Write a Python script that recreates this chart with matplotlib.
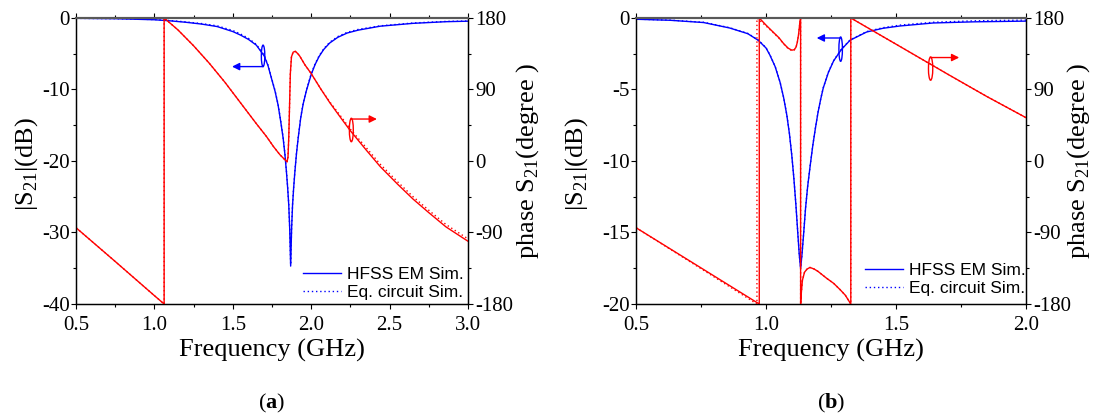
import matplotlib; matplotlib.use("Agg")
import matplotlib.pyplot as plt
from matplotlib.ticker import MultipleLocator, FormatStrFormatter
from matplotlib.patches import Ellipse
from matplotlib.lines import Line2D

plt.rcParams['font.family'] = ['Liberation Serif', 'DejaVu Serif']
plt.rcParams['mathtext.fontset'] = 'custom'
plt.rcParams['mathtext.rm'] = 'Liberation Serif'
plt.rcParams['mathtext.bf'] = 'Liberation Serif:bold'
plt.rcParams['axes.unicode_minus'] = False

# ---- panel (a): |S21| in dB ----
A_F_MAG = [0.5, 0.75, 1.0, 1.1, 1.2, 1.3, 1.4, 1.5, 1.55, 1.6, 1.65, 1.7, 1.725, 1.746, 1.77,
           1.789, 1.805, 1.821, 1.832, 1.842, 1.85, 1.857, 1.863, 1.869, 1.875, 1.881, 1.888,
           1.896, 1.906, 1.917, 1.933, 1.949, 1.969, 2.0, 2.025, 2.05, 2.08, 2.118, 2.17, 2.23,
           2.3, 2.44, 2.65, 2.86, 3.0]
A_MAG_HFSS = [-0.05, -0.1, -0.25, -0.4, -0.6, -0.85, -1.2, -1.9, -2.4, -3.0, -3.8, -5.3, -6.7,
              -8.4, -10.3, -12.2, -14.4, -16.8, -19.0, -21.5, -23.8, -26.2, -29.5, -34.7, -29.5,
              -26.2, -23.8, -21.5, -19.0, -16.8, -14.0, -12.0, -10.2, -7.9, -6.5, -5.4, -4.4,
              -3.5, -2.7, -2.1, -1.7, -1.15, -0.75, -0.52, -0.45]
A_MAG_EQ = [-0.05, -0.1, -0.22, -0.36, -0.55, -0.78, -1.1, -1.75, -2.25, -2.85, -3.7, -5.2, -6.6,
            -8.3, -10.2, -12.1, -14.3, -16.7, -18.9, -21.4, -23.7, -26.1, -29.4, -34.5, -29.4,
            -26.1, -23.7, -21.4, -18.9, -16.7, -13.9, -11.9, -10.1, -7.8, -6.4, -5.3, -4.3,
            -3.4, -2.6, -2.0, -1.6, -1.1, -0.7, -0.48, -0.42]

# ---- panel (a): phase S21 in degree ----
A_F_PH = [0.5, 0.75, 1.0, 1.062, 1.062, 1.15, 1.25, 1.35, 1.45, 1.55, 1.65, 1.714, 1.76, 1.8,
          1.825, 1.846, 1.852, 1.857, 1.862, 1.867, 1.874, 1.885, 1.899, 1.915, 1.927, 1.96,
          2.0, 2.06, 2.12, 2.19, 2.25, 2.35, 2.44, 2.55, 2.65, 2.75, 2.86, 3.0]
A_PH_HFSS = [-84, -126.5, -169.5, -180, 180, 165, 145, 123, 99, 73, 47, 31, 18, 8, 3, -1, 5, 30,
             70, 110, 131, 137, 138, 135, 132, 121, 110, 91, 73, 54, 38, 14, -7, -29, -48, -65,
             -83, -101]
A_PH_EQ = [-84, -126.5, -169.5, -180, 180, 165, 145, 123, 99, 73, 47, 31, 18, 8, 3, -1, 5, 30,
           70, 110, 131, 137, 138, 135, 132, 121, 110, 91, 74, 56, 40, 17, -4, -26, -45, -62,
           -80, -98]

# ---- panel (b): |S21| in dB ----
B_F_MAG = [0.5, 0.63, 0.76, 0.86, 0.93, 0.97, 1.0, 1.015, 1.035, 1.054, 1.068, 1.08, 1.09,
           1.099, 1.107, 1.115, 1.122, 1.128, 1.133, 1.138, 1.145, 1.152, 1.16, 1.17, 1.18,
           1.19, 1.2, 1.21, 1.22, 1.24, 1.26, 1.29, 1.323, 1.387, 1.45, 1.515, 1.643, 1.8, 2.0]
B_MAG_HFSS = [-0.09, -0.16, -0.32, -0.7, -1.1, -1.56, -2.1, -2.6, -3.4, -4.5, -5.6, -6.8, -8.1,
              -9.6, -11.2, -13.1, -15.0, -16.6, -17.5, -16.6, -15.0, -13.3, -11.8, -10.3, -8.9,
              -7.7, -6.6, -5.7, -4.9, -3.8, -3.0, -2.2, -1.56, -0.98, -0.72, -0.56, -0.35,
              -0.27, -0.22]
B_MAG_EQ = [-0.08, -0.15, -0.3, -0.68, -1.08, -1.54, -2.08, -2.58, -3.38, -4.48, -5.58, -6.78,
            -8.08, -9.58, -11.18, -13.08, -14.98, -16.58, -17.45, -16.58, -14.98, -13.28,
            -11.78, -10.28, -8.88, -7.68, -6.58, -5.68, -4.88, -3.78, -2.98, -2.18, -1.54,
            -0.95, -0.68, -0.5, -0.3, -0.2, -0.15]

# ---- panel (b): phase S21 in degree ----
B_F_PH = [0.5, 0.75, 0.974, 0.974, 1.0, 1.028, 1.05, 1.067, 1.085, 1.099, 1.108, 1.115, 1.12,
          1.125, 1.13, 1.133, 1.133, 1.136, 1.14, 1.148, 1.158, 1.169, 1.185, 1.2, 1.233, 1.26,
          1.285, 1.305, 1.326, 1.326, 1.5, 1.7, 1.85, 2.0]
B_PH_HFSS = [-84, -134.6, -180, 180, 171, 162, 155, 148, 142, 139.5, 140, 143, 149, 159, 174,
             180, -180, -165, -150, -140, -136, -134, -136, -139, -147.6, -154, -162, -169,
             -180, 180, 147, 109, 81, 54.5]
B_F_PH_EQ = [0.5, 0.75, 0.965, 0.965, 1.0, 1.028, 1.05, 1.067, 1.085, 1.099, 1.108, 1.115, 1.12,
             1.125, 1.13, 1.133, 1.133, 1.136, 1.14, 1.148, 1.158, 1.169, 1.185, 1.2, 1.233,
             1.26, 1.285, 1.305, 1.326, 1.326, 1.5, 1.7, 1.85, 2.0]
B_PH_EQ = [-84, -135.5, -180, 180, 170, 161.5, 154.5, 147.5, 141.5, 139, 139.5, 142.5, 148.5,
           158.5, 173.5, 180, -180, -165, -150, -140, -136, -134, -136, -139, -147.6, -154,
           -162, -169, -180, 180, 147, 109, 81, 54.5]

BLUE = "#0000ff"; RED = "#ff0000"
DOT = (0, (1, 2))
LABEL_FS = 19

def style_axes(ax, ax2, xmax, ymin, ymajor, yminor):
    ax.set_xlim(0.5, xmax); ax.set_ylim(ymin, 0); ax2.set_ylim(-180, 180)
    ax.xaxis.set_major_locator(MultipleLocator(0.5)); ax.xaxis.set_minor_locator(MultipleLocator(0.25))
    ax.xaxis.set_major_formatter(FormatStrFormatter("%.1f"))
    ax.yaxis.set_major_locator(MultipleLocator(ymajor))
    ax.yaxis.set_minor_locator(MultipleLocator(yminor))
    ax2.yaxis.set_major_locator(MultipleLocator(90)); ax2.yaxis.set_minor_locator(MultipleLocator(45))
    ax.tick_params(axis="both", which="both", direction="out", labelsize=15, width=0.8)
    ax.tick_params(axis="x", which="both", top=True, pad=5.5)
    ax.tick_params(axis="y", which="both", pad=1)
    ax.tick_params(which="major", length=3.5); ax.tick_params(which="minor", length=2.2)
    ax2.tick_params(axis="y", which="both", direction="out", labelsize=15, width=0.8, pad=2)
    ax2.tick_params(which="major", length=3.5); ax2.tick_params(which="minor", length=2.2)
    for a in (ax, ax2):
        for s in a.spines.values(): s.set_linewidth(0.9)
        a.spines["top"].set_color("0.35"); a.spines["top"].set_linewidth(1.5)

def legend(ax, anchor):
    h = [Line2D([0], [0], color=BLUE, lw=1.0),
         Line2D([0], [0], color=BLUE, lw=1.0, linestyle=DOT)]
    ax.legend(h, ["HFSS EM Sim.", "Eq. circuit Sim."], loc="lower right", bbox_to_anchor=anchor,
              frameon=False, prop={"family": "Liberation Sans", "size": 12.5},
              handlelength=2.2, handletextpad=0.35, labelspacing=0.15, borderpad=0, borderaxespad=0)

def marker(ax, x, yc, w, h, xtip, yarrow, color):
    ax.add_patch(Ellipse((x, yc), w, h, fill=False, edgecolor=color, lw=1.0, zorder=6))
    ax.annotate("", xy=(xtip, yarrow), xytext=(x, yarrow),
                arrowprops=dict(arrowstyle="-|>", color=color, lw=1.0, mutation_scale=11,
                                shrinkA=0, shrinkB=0), zorder=6)

fig = plt.figure(figsize=(10.97, 4.17), dpi=100)

# ---- (a) ----
ax = fig.add_axes([0.0693, 0.271, 0.3573, 0.6859])
ax2 = ax.twinx()
ax.plot(A_F_MAG, A_MAG_HFSS, color=BLUE, lw=1.0)
ax.plot(A_F_MAG, A_MAG_EQ, color=BLUE, lw=1.0, linestyle=DOT)
ax2.plot(A_F_PH, A_PH_HFSS, color=RED, lw=1.0)
ax2.plot(A_F_PH, A_PH_EQ, color=RED, lw=1.0, linestyle=DOT)
style_axes(ax, ax2, 3.0, -40, 10, 5)
marker(ax, 1.693, -5.3, 0.022, 3.0, 1.495, -6.8, BLUE)
marker(ax2, 2.256, 39, 0.025, 29.5, 2.419, 52.8, RED)
legend(ax, (0.99, 0.015))
ax.set_xlabel("Frequency (GHz)", fontsize=LABEL_FS)
ax.xaxis.set_label_coords(0.5, -0.122)
ax.set_ylabel(r"|S$_{21}$|(dB)", fontsize=LABEL_FS)
ax.yaxis.set_label_coords(-0.092, 0.49)
ax2.set_ylabel(r"phase S$_{21}$(degree )", fontsize=LABEL_FS)
ax2.yaxis.set_label_coords(1.118, 0.5)
fig.text(272 / 1097, 1 - 403 / 417, r"($\mathbf{a}$)", fontsize=16, ha="center", va="center")

# ---- (b) ----
bx = fig.add_axes([0.5798, 0.271, 0.3555, 0.6859])
bx2 = bx.twinx()
bx.plot(B_F_MAG, B_MAG_HFSS, color=BLUE, lw=1.0)
bx.plot(B_F_MAG, B_MAG_EQ, color=BLUE, lw=1.0, linestyle=DOT)
bx2.plot(B_F_PH, B_PH_HFSS, color=RED, lw=1.0)
bx2.plot(B_F_PH_EQ, B_PH_EQ, color=RED, lw=1.0, linestyle=DOT)
style_axes(bx, bx2, 2.0, -20, 5, 2.5)
marker(bx, 1.287, -2.18, 0.0135, 1.7, 1.195, -1.4, BLUE)
marker(bx2, 1.633, 116.3, 0.0165, 29.3, 1.743, 130.2, RED)
legend(bx, (1.0, 0.028))
bx.set_xlabel("Frequency (GHz)", fontsize=LABEL_FS)
bx.xaxis.set_label_coords(0.5, -0.122)
bx.set_ylabel(r"|S$_{21}$|(dB)", fontsize=LABEL_FS)
bx.yaxis.set_label_coords(-0.118, 0.49)
bx2.set_ylabel(r"phase S$_{21}$(degree )", fontsize=LABEL_FS)
bx2.yaxis.set_label_coords(1.1, 0.5)
fig.text(831 / 1097, 1 - 403 / 417, r"($\mathbf{b}$)", fontsize=16, ha="center", va="center")

fig.savefig("out.png", dpi=100)
